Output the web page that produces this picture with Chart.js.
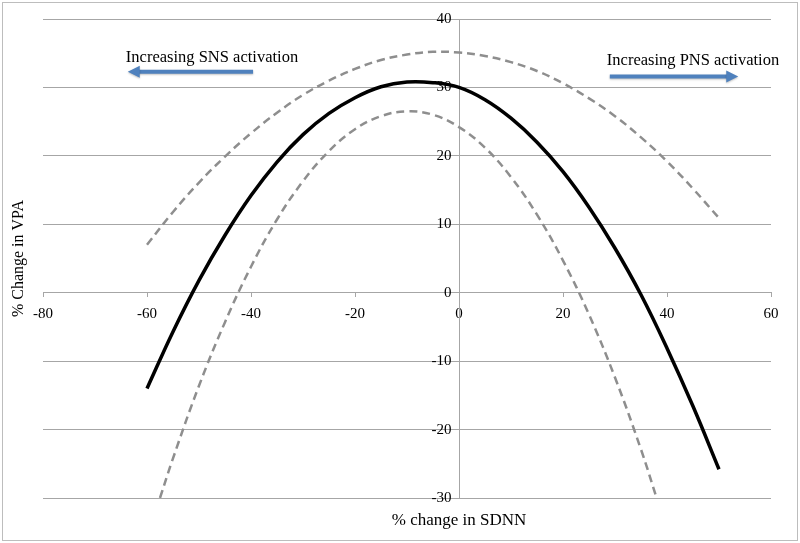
<!DOCTYPE html>
<html>
<head>
<meta charset="utf-8">
<script src="https://cdn.jsdelivr.net/npm/chart.js@4.4.1/dist/chart.umd.min.js"></script>
<style>
  html, body { margin: 0; padding: 0; background: #fff; }
  #wrap { width: 800px; height: 543px; position: relative; }
</style>
</head>
<body>
<div id="wrap"><canvas id="vpaChart" width="800" height="543"></canvas></div>
<script>
// Values (x = % change in SDNN, y = % change in VPA)
const fitX = [-60, -55, -50, -45, -40, -35, -30, -25, -20, -15, -10, -5, 0, 5, 10, 15, 20, 25, 30, 35, 40, 45, 50];
const fitY = [-14, -5.7, 1.8, 8.4, 14.2, 19.1, 23.1, 26.2, 28.5, 30.1, 30.8, 30.7, 30, 28.2, 25.5, 22.0, 17.7, 12.5, 6.5, -0.3, -8.1, -16.6, -25.8];

const upperX = [-60, -55, -50, -45, -40, -35, -30, -25, -20, -15, -10, -5, 0, 5, 10, 15, 20, 25, 30, 35, 40, 45, 50];
const upperY = [7.0, 11.8, 16.1, 19.9, 23.3, 26.3, 28.9, 31.0, 32.7, 34.0, 34.8, 35.2, 35.1, 34.6, 33.7, 32.4, 30.6, 28.4, 25.8, 22.7, 19.2, 15.2, 10.9];

const lowerX = [-57.5, -55, -50, -45, -40, -35, -30, -25, -20, -15, -10, -5, 0, 5, 10, 15, 20, 25, 30, 35, 38];
const lowerY = [-30, -24.2, -13.6, -4.3, 3.8, 10.7, 16.3, 20.7, 23.9, 25.8, 26.5, 26.0, 24.2, 21.2, 16.9, 11.4, 4.7, -3.2, -12.4, -22.9, -30];

// axis ranges / ticks
const xTicks = [-80, -60, -40, -20, 0, 20, 40, 60];
const yTicks = [-30, -20, -10, 0, 10, 20, 30, 40];

// annotation text and arrows (data coordinates)
const noteLabels = ['Increasing SNS activation', 'Increasing PNS activation'];
const noteTextX = [-47.5, 45];
const noteTextY = [34.3, 33.9];
const arrowFromX = [-39.6, 29.0];
const arrowToX = [-63.7, 53.7];
const arrowY = [32.3, 31.6];

const serif = "'Liberation Serif', 'Times New Roman', serif";
const gridGrey = '#a6a6a6';

function toPoints(xs, ys) {
    return xs.map((x, i) => ({ x: x, y: ys[i] }));
}

// draws axis titles, annotations and the outer frame
const extrasPlugin = {
    id: 'extras',
    afterDraw(chart) {
        const c = chart.ctx;
        const xs = chart.scales.x;
        const ys = chart.scales.y;
        const area = chart.chartArea;
        c.save();

        // outer frame
        c.strokeStyle = '#bdbdbd';
        c.lineWidth = 1;
        c.strokeRect(2.5, 2.5, chart.width - 5, chart.height - 5);

        // axis titles
        c.fillStyle = '#000';
        c.textAlign = 'center';
        c.textBaseline = 'middle';
        c.font = '17px ' + serif;
        c.fillText('% change in SDNN', xs.getPixelForValue(0), 521);
        c.save();
        c.font = '16px ' + serif;
        c.translate(19, (area.top + area.bottom) / 2);
        c.rotate(-Math.PI / 2);
        c.fillText('% Change in VPA', 0, 0);
        c.restore();

        // annotations
        for (let i = 0; i < noteLabels.length; i++) {
            c.fillStyle = '#000';
            c.font = '16.5px ' + serif;
            c.fillText(noteLabels[i], xs.getPixelForValue(noteTextX[i]), ys.getPixelForValue(noteTextY[i]));

            const x1 = xs.getPixelForValue(arrowFromX[i]);
            const x2 = xs.getPixelForValue(arrowToX[i]);
            const y = ys.getPixelForValue(arrowY[i]);
            const dir = x2 > x1 ? 1 : -1;
            c.shadowColor = 'rgba(0,0,0,0.25)';
            c.shadowBlur = 2;
            c.shadowOffsetY = 1;
            c.strokeStyle = '#4f81bd';
            c.fillStyle = '#4f81bd';
            c.lineWidth = 4;
            c.beginPath();
            c.moveTo(x1, y);
            c.lineTo(x2 - dir * 9, y);
            c.stroke();
            c.beginPath();
            c.moveTo(x2, y);
            c.lineTo(x2 - dir * 12, y - 6);
            c.lineTo(x2 - dir * 12, y + 6);
            c.closePath();
            c.fill();
            c.shadowColor = 'transparent';
        }
        c.restore();
    }
};

const ctx = document.getElementById('vpaChart').getContext('2d');
const vpaChart = new Chart(ctx, {
    type: 'scatter',
    data: {
        datasets: [
            {
                label: 'Fit',
                data: toPoints(fitX, fitY),
                showLine: true,
                borderColor: '#000',
                borderWidth: 3.5,
                pointRadius: 0,
                tension: 0.4,
                fill: false
            },
            {
                label: 'Upper',
                data: toPoints(upperX, upperY),
                showLine: true,
                borderColor: '#8e8e8e',
                borderWidth: 2.5,
                borderDash: [8, 5],
                pointRadius: 0,
                tension: 0.4,
                fill: false
            },
            {
                label: 'Lower',
                data: toPoints(lowerX, lowerY),
                showLine: true,
                borderColor: '#8e8e8e',
                borderWidth: 2.5,
                borderDash: [8, 5],
                pointRadius: 0,
                tension: 0.4,
                fill: false
            }
        ]
    },
    options: {
        responsive: false,
        animation: false,
        layout: {
            padding: { left: 43, right: 29, top: 19, bottom: 45 }
        },
        plugins: {
            legend: { display: false },
            tooltip: { enabled: false }
        },
        scales: {
            x: {
                type: 'linear',
                position: { y: 0 },
                min: xTicks[0],
                max: xTicks[xTicks.length - 1],
                afterBuildTicks: (axis) => { axis.ticks = xTicks.map(v => ({ value: v })); },
                grid: { display: true, drawOnChartArea: false, drawTicks: true, tickLength: 4, color: gridGrey },
                border: { display: true, color: gridGrey },
                ticks: { color: '#000', font: { family: serif, size: 15 }, padding: 8, maxRotation: 0 }
            },
            y: {
                type: 'linear',
                position: { x: 0 },
                min: yTicks[0],
                max: yTicks[yTicks.length - 1],
                afterBuildTicks: (axis) => { axis.ticks = yTicks.map(v => ({ value: v })); },
                grid: { display: true, color: gridGrey, drawTicks: false },
                border: { display: true, color: gridGrey },
                // labels sit left of the centred axis; trailing spaces give the gap
                ticks: { color: '#000', font: { family: serif, size: 15 }, callback: (v) => v + '  ' }
            }
        }
    },
    plugins: [extrasPlugin]
});
</script>
</body>
</html>
